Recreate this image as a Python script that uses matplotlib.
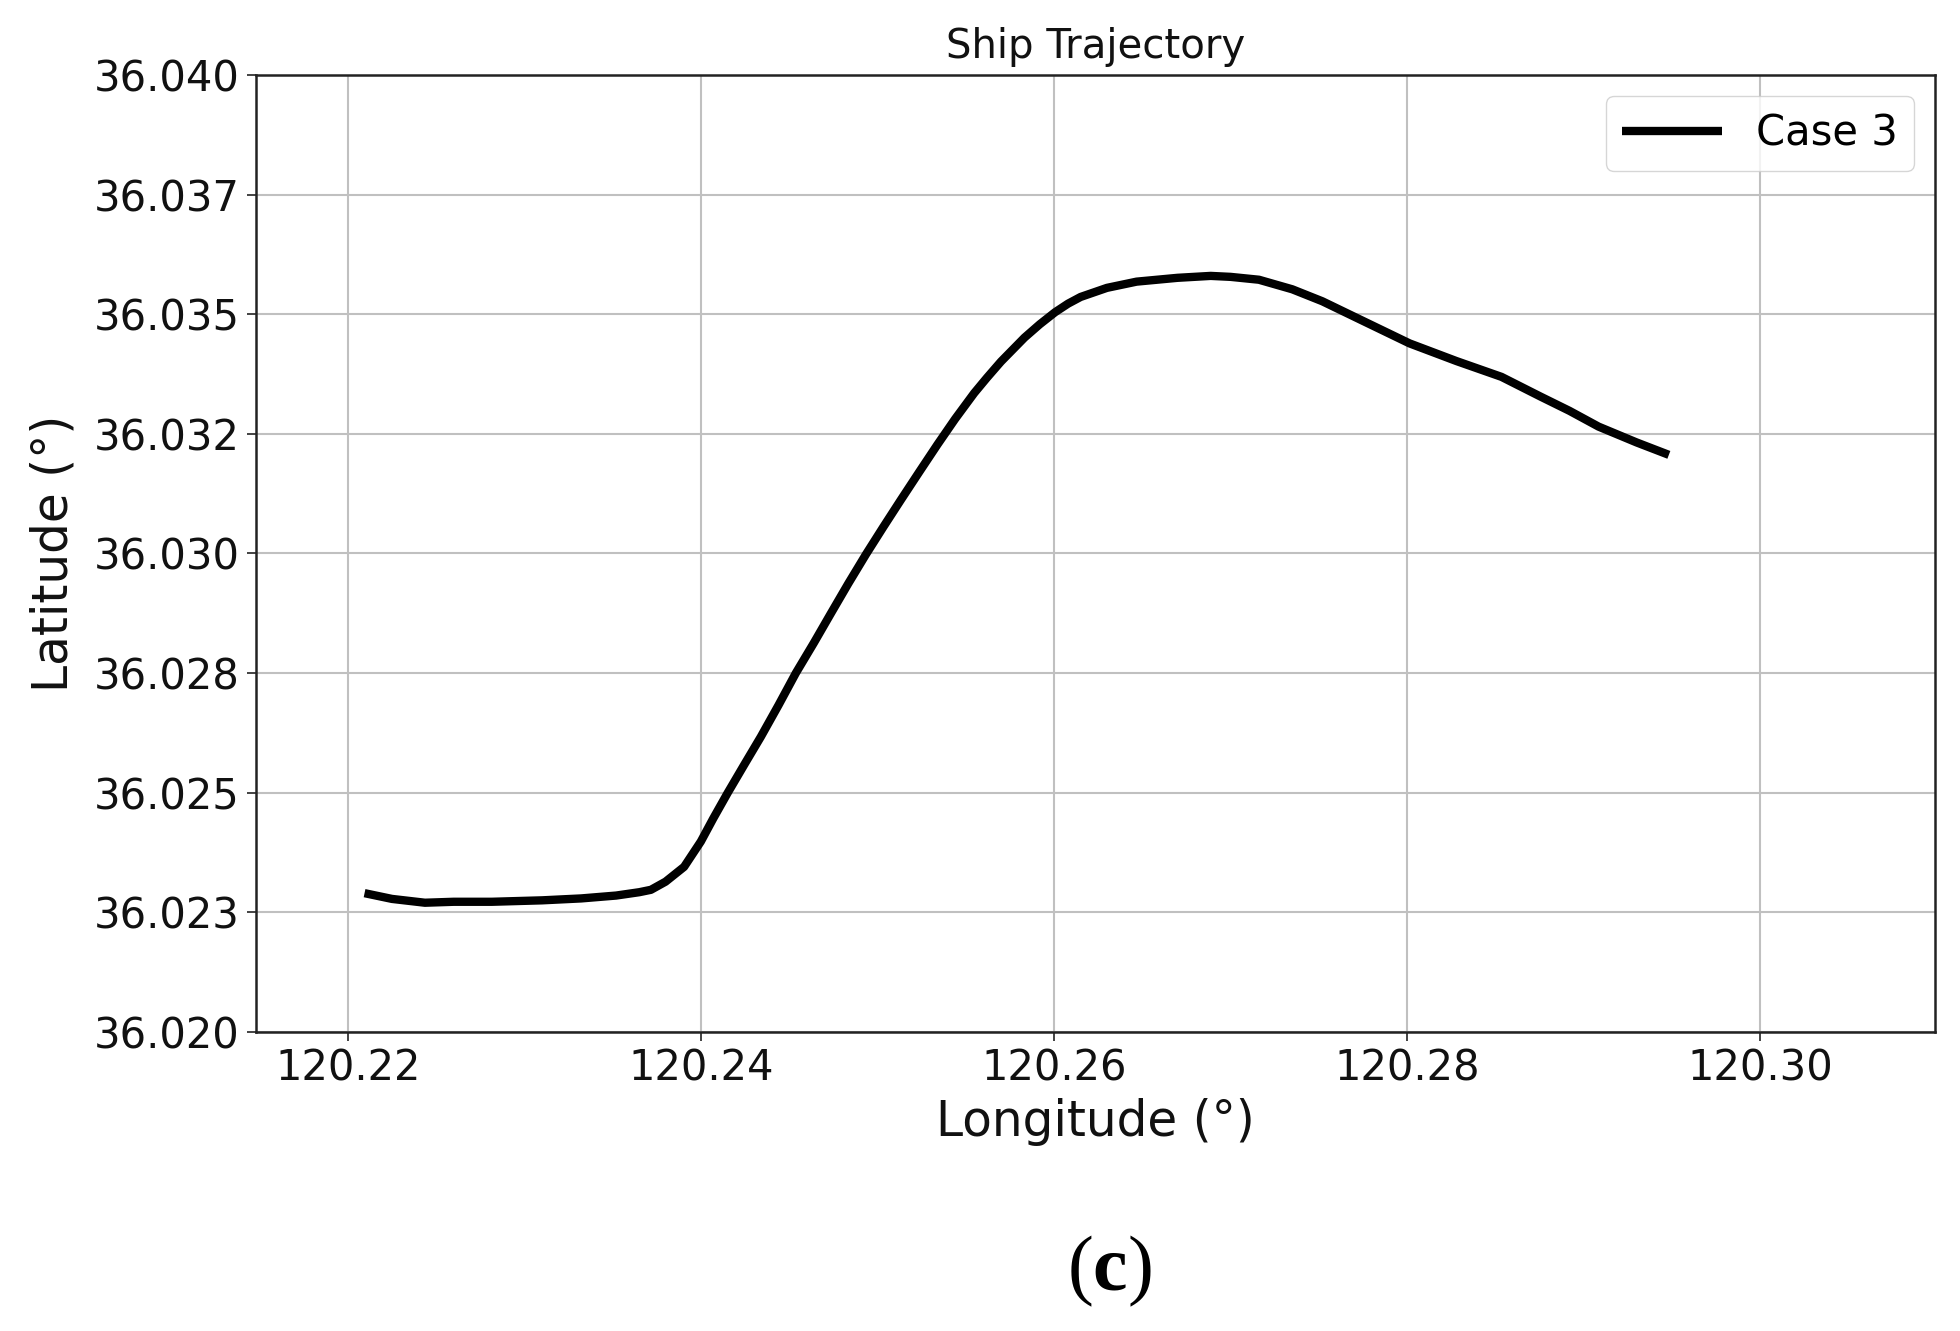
import matplotlib
matplotlib.use("Agg")
import matplotlib.pyplot as plt
from matplotlib.ticker import FixedLocator, FixedFormatter, FormatStrFormatter

lon = [120.22095, 120.22250, 120.22437, 120.22600, 120.22816, 120.23100, 120.23322,
       120.23520, 120.23651, 120.23717, 120.23800, 120.23905, 120.24000, 120.24070,
       120.24151, 120.24245, 120.24340, 120.24440, 120.24538, 120.24640, 120.24737,
       120.24835, 120.24935, 120.25033, 120.25133, 120.25240, 120.25341, 120.25440,
       120.25548, 120.25620, 120.25700, 120.25833, 120.25920, 120.26006, 120.26080,
       120.26151, 120.26300, 120.26468, 120.26700, 120.26888, 120.27000, 120.27161,
       120.27350, 120.27520, 120.27750, 120.28014, 120.28280, 120.28535, 120.28755,
       120.28920, 120.29085, 120.29300, 120.29483]
lat = [36.02290, 36.02278, 36.02270, 36.02272, 36.02272, 36.02275, 36.02279,
       36.02285, 36.02292, 36.02297, 36.02314, 36.02345, 36.02398, 36.02446,
       36.02499, 36.02558, 36.02617, 36.02683, 36.02750, 36.02813, 36.02875,
       36.02937, 36.02998, 36.03055, 36.03112, 36.03172, 36.03228, 36.03281,
       36.03335, 36.03367, 36.03401, 36.03451, 36.03479, 36.03504, 36.03522,
       36.03536, 36.03555, 36.03568, 36.03576, 36.03580, 36.03578, 36.03572,
       36.03552, 36.03527, 36.03486, 36.03439, 36.03402, 36.03369, 36.03328,
       36.03298, 36.03265, 36.03232, 36.03206]

x_ticks = [120.22, 120.24, 120.26, 120.28, 120.30]
y_ticks = [36.0200, 36.0225, 36.0250, 36.0275, 36.0300, 36.0325, 36.0350, 36.0375, 36.0400]
y_tick_labels = ['36.020', '36.023', '36.025', '36.028', '36.030',
                 '36.032', '36.035', '36.037', '36.040']
series_label = "Case 3"

plt.rcParams['mathtext.fontset'] = 'custom'
plt.rcParams['mathtext.rm'] = 'Liberation Serif'
plt.rcParams['mathtext.bf'] = 'Liberation Serif:bold'

fig = plt.figure(figsize=(19.6, 13.31), dpi=100)
ax = fig.add_axes([0.1306, 0.2247, 0.8566, 0.7190])

ax.plot(lon, lat, color='black', linewidth=6, label=series_label,
        solid_capstyle='butt', solid_joinstyle='round')

ax.set_xlim(120.2148, 120.3099)
ax.set_ylim(36.020, 36.040)
ax.xaxis.set_major_locator(FixedLocator(x_ticks))
ax.yaxis.set_major_locator(FixedLocator(y_ticks))
ax.xaxis.set_major_formatter(FormatStrFormatter('%.2f'))
ax.yaxis.set_major_formatter(FixedFormatter(y_tick_labels))
ax.tick_params(axis='both', labelsize=30, length=6.5, width=1.2, pad=5,
               colors='#222222', labelcolor='#111111')
ax.grid(True, color='#c0c0c0', linewidth=1.5)
ax.set_axisbelow(True)
for s in ax.spines.values():
    s.set_linewidth(1.8)
    s.set_color('#222222')

ax.set_title('Ship Trajectory', fontsize=29, pad=12, color='#111111')
ax.set_xlabel('Longitude (°)', fontsize=35, labelpad=6, color='#111111')
ax.set_ylabel('Latitude (°)', fontsize=35, labelpad=12, color='#111111')

leg = ax.legend(loc='upper right', fontsize=30, handlelength=2.4, borderaxespad=0.5,
                framealpha=0.8, fancybox=True)
for line in leg.get_lines():
    line.set_linewidth(6)

fig.text(0.566, 0.045, r'($\mathbf{c}$)', fontsize=56, family='Liberation Serif',
         ha='center', va='center')

fig.savefig('out.png', dpi=100)
